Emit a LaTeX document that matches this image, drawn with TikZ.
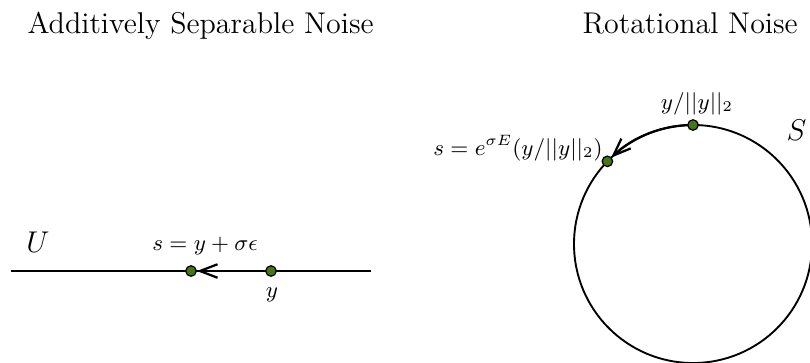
\documentclass[tikz,border=0pt]{standalone}
\usepackage{amsmath,amssymb}
\usepackage{tikz}
\usetikzlibrary{arrows.meta}
\definecolor{dotgreen}{RGB}{70,118,22}
\tikzset{
    ptnode/.style={
        circle,
        draw=black,
        fill=dotgreen,
        line width=0.5pt,
        inner sep=0pt,
        minimum size=4.2pt
    },
    lblnode/.style={
        font=\small,
        inner sep=0pt
    },
    titlenode/.style={
        font=\large,
        inner sep=0pt,
        anchor=base west
    },
    noisearrow/.style={
        line width=0.9pt,
        -{Straight Barb[length=7pt,width=5.4pt]}
    }
}

\begin{document}
\begin{tikzpicture}
[
    x=0.4pt,
    y=0.4pt
]
\clip (0,0) rectangle (810,362);
\useasboundingbox (0,0) rectangle (810,362);
% titles
\node[titlenode] (addtitle) at (27,329) {Additively Separable Noise};
\node[titlenode] (rottitle) at (582,329) {Rotational Noise};
% additive noise on the line U
\coordinate (lineL) at (11,91);
\coordinate (lineR) at (371,91);
\draw[line width=0.65pt] (lineL) -- (lineR);
\node[ptnode] (sdot) at (191,91) {};
\node[ptnode] (ydot) at (271,91) {};
\draw[noisearrow] (ydot) -- (sdot);
\node[lblnode, anchor=base] (slbl) at (205,112) {$s = y + \sigma\epsilon$};
\node[lblnode, anchor=base] (ylbl) at (272,65) {$y$};
\node[titlenode] (Ulbl) at (26,110) {$U$};
% rotational noise on the sphere S
\coordinate (ctr) at (693,118);
\coordinate (toppt) at ([shift={(ctr)}]90:47.6pt);
\coordinate (rotpt) at ([shift={(ctr)}]136:47.6pt);
\draw[line width=0.75pt] (ctr) circle[radius=47.6pt];
\draw[noisearrow] (toppt) arc[start angle=90, end angle=133.5, radius=47.6pt];
\node[ptnode] (topdot) at (toppt) {};
\node[ptnode] (rotdot) at (rotpt) {};
\node[lblnode, anchor=base] (toplbl) at (697,253) {$y/||y||_2$};
\node[lblnode, anchor=base east] (rotlbl) at (603,207) {$s = e^{\sigma E}(y/||y||_2)$};
\node[titlenode] (Slbl) at (786,222) {$S$};
\end{tikzpicture}
\end{document}
